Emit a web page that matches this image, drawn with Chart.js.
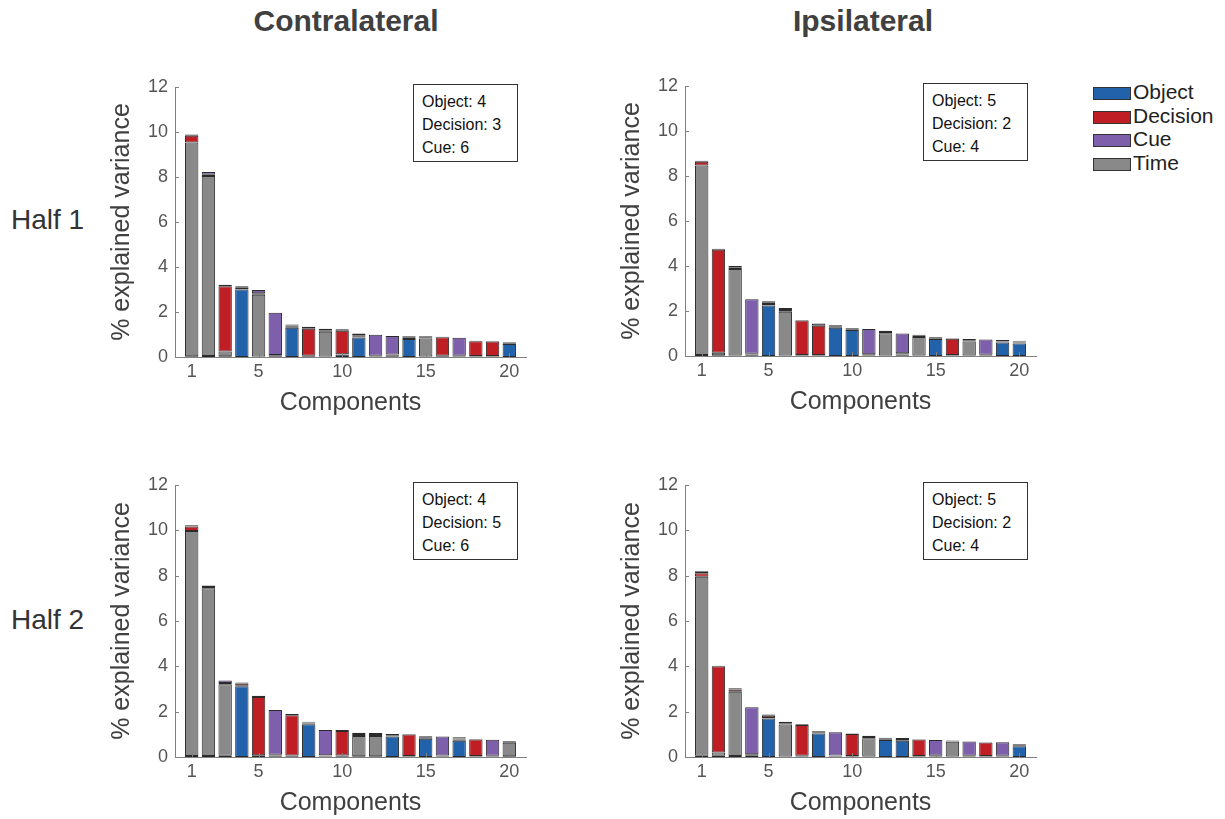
<!DOCTYPE html>
<html>
<head>
<meta charset="utf-8">
<script src="https://cdn.jsdelivr.net/npm/chart.js@4.4.1/dist/chart.umd.min.js"></script>
<style>
  html, body { margin: 0; padding: 0; background: #fff; overflow: hidden; }
  body { width: 1225px; height: 819px; position: relative; font-family: "Liberation Sans", Arial, Helvetica, sans-serif; }
  .abs { position: absolute; }
  .col-title { font-size: 30px; font-weight: bold; color: #404040; text-align: center; width: 300px; }
  .row-title { font-size: 28px; color: #333; }
  .countbox { border: 1px solid #333; background: #fff; font-size: 16px; color: #111; line-height: 23px; padding: 5px 0 0 8px; box-sizing: border-box; }
  .leg-row { position: absolute; left: 1093px; height: 24px; font-size: 21px; color: #222; }
  .leg-sw { position: absolute; left: 0; top: 6px; width: 36px; height: 11px; border: 1px solid #333; }
  .leg-tx { position: absolute; left: 40px; top: -1px; white-space: nowrap; }
</style>
</head>
<body>

<div class="abs col-title" style="left:196px; top:4px;">Contralateral</div>
<div class="abs col-title" style="left:713px; top:4px;">Ipsilateral</div>
<div class="abs row-title" style="left:11px; top:204px;">Half 1</div>
<div class="abs row-title" style="left:11px; top:604px;">Half 2</div>

<canvas id="cl1" class="abs"></canvas>
<canvas id="ip1" class="abs"></canvas>
<canvas id="cl2" class="abs"></canvas>
<canvas id="ip2" class="abs"></canvas>

<div id="legend"></div>

<script>
// --- Data ---
const components = [1, 2, 3, 4, 5, 6, 7, 8, 9, 10, 11, 12, 13, 14, 15, 16, 17, 18, 19, 20];
const xTickValues = [1, 5, 10, 15, 20];
const categories = ['Object', 'Decision', 'Cue', 'Time'];

// Contralateral, half 1
const cl1Object   = [0.03, 0.05, 0.03, 3.0, 0.02, 0.03, 1.3, 0.03, 0.02, 0.1, 0.87, 0.02, 0.03, 0.8, 0.02, 0.03, 0.02, 0.02, 0.02, 0.58];
const cl1Time     = [9.5, 8.0, 0.22, 0.02, 2.75, 0.03, 0.05, 0.03, 1.1, 0.02, 0.05, 0.02, 0.03, 0.04, 0.8, 0.03, 0.02, 0.02, 0.02, 0.03];
const cl1Decision = [0.3, 0.05, 2.9, 0.08, 0.06, 0.03, 0.05, 1.2, 0.07, 1.05, 0.05, 0.02, 0.05, 0.04, 0.04, 0.82, 0.02, 0.66, 0.65, 0.03];
const cl1Cue      = [0.06, 0.12, 0.06, 0.05, 0.15, 1.88, 0.04, 0.09, 0.07, 0.06, 0.08, 0.93, 0.82, 0.04, 0.06, 0.02, 0.8, 0.02, 0.02, 0.03];

// Ipsilateral, half 1
const ip1Object   = [0.05, 0.03, 0.02, 0.03, 2.25, 0.02, 0.02, 0.02, 1.26, 1.16, 0.02, 0.02, 0.03, 0.02, 0.76, 0.02, 0.02, 0.02, 0.6, 0.56];
const ip1Time     = [8.42, 0.12, 3.85, 0.04, 0.06, 1.95, 0.02, 0.02, 0.04, 0.03, 0.03, 0.99, 0.04, 0.83, 0.03, 0.02, 0.62, 0.02, 0.04, 0.04];
const ip1Decision = [0.16, 4.57, 0.07, 0.03, 0.06, 0.08, 1.54, 1.3, 0.04, 0.02, 0.03, 0.06, 0.05, 0.05, 0.02, 0.73, 0.06, 0.02, 0.03, 0.04];
const ip1Cue      = [0.05, 0.05, 0.06, 2.42, 0.06, 0.08, 0.02, 0.1, 0.04, 0.03, 1.12, 0.05, 0.88, 0.05, 0.03, 0.02, 0.06, 0.67, 0.04, 0.04];

// Contralateral, half 2
const cl2Object   = [0.04, 0.04, 0.05, 3.12, 0.04, 0.03, 0.03, 1.44, 0.02, 0.03, 0.03, 0.03, 0.9, 0.02, 0.81, 0.02, 0.72, 0.02, 0.02, 0.03];
const cl2Time     = [9.93, 7.4, 3.16, 0.02, 0.04, 0.04, 0.04, 0.04, 0.03, 0.04, 0.9, 0.9, 0.04, 0.02, 0.03, 0.02, 0.05, 0.02, 0.02, 0.6];
const cl2Decision = [0.2, 0.06, 0.06, 0.1, 2.57, 0.03, 1.77, 0.04, 0.03, 1.08, 0.08, 0.08, 0.03, 0.95, 0.03, 0.03, 0.05, 0.73, 0.02, 0.04];
const cl2Cue      = [0.05, 0.07, 0.1, 0.05, 0.05, 1.97, 0.06, 0.04, 1.11, 0.04, 0.06, 0.05, 0.04, 0.02, 0.04, 0.83, 0.05, 0.02, 0.7, 0.04];

// Ipsilateral, half 2
const ip2Object   = [0.05, 0.06, 0.04, 0.04, 1.7, 0.02, 0.02, 1.04, 0.02, 0.02, 0.02, 0.75, 0.72, 0.02, 0.02, 0.02, 0.02, 0.02, 0.02, 0.47];
const ip2Time     = [7.9, 0.14, 2.84, 0.04, 0.02, 1.41, 0.03, 0.03, 0.03, 0.02, 0.81, 0.03, 0.03, 0.02, 0.02, 0.65, 0.02, 0.02, 0.02, 0.03];
const ip2Decision = [0.16, 3.8, 0.1, 0.04, 0.1, 0.06, 1.36, 0.04, 0.02, 0.98, 0.05, 0.03, 0.04, 0.73, 0.01, 0.03, 0.02, 0.6, 0.01, 0.03];
const ip2Cue      = [0.09, 0.03, 0.05, 2.08, 0.06, 0.07, 0.03, 0.04, 1.02, 0.02, 0.06, 0.04, 0.05, 0.01, 0.7, 0.03, 0.62, 0.01, 0.6, 0.03];

// counts shown in each panel's box: Object, Decision, Cue
const cl1Counts = [4, 3, 6];
const ip1Counts = [5, 2, 4];
const cl2Counts = [4, 5, 6];
const ip2Counts = [5, 2, 4];

// --- Style ---
const COLORS = { Object: '#2162ab', Decision: '#be1e24', Cue: '#7e5fab', Time: '#898989' };
const EDGE = '#2b2b2b';
const FONT = '"Liberation Sans", Arial, Helvetica, sans-serif';

// MATLAB style inward tick marks
const inwardTicks = {
    id: 'inwardTicks',
    afterDraw(chart) {
        const { ctx, chartArea, scales } = chart;
        ctx.save();
        ctx.strokeStyle = '#808080';
        ctx.lineWidth = 1;
        ctx.beginPath();
        scales.y.ticks.forEach(t => {
            const y = Math.round(scales.y.getPixelForValue(t.value)) + 0.5;
            ctx.moveTo(chartArea.left, y);
            ctx.lineTo(chartArea.left + 4, y);
        });
        scales.x.ticks.forEach(t => {
            const x = Math.round(scales.x.getPixelForValue(t.value)) + 0.5;
            ctx.moveTo(x, chartArea.bottom);
            ctx.lineTo(x, chartArea.bottom - 4);
        });
        ctx.stroke();
        ctx.restore();
    }
};

function makeDataset(label, values) {
    return {
        label: label,
        data: values.map((v, i) => ({ x: components[i], y: v })),
        backgroundColor: COLORS[label],
        borderColor: EDGE,
        borderWidth: 1,
        borderSkipped: false,
        barPercentage: 0.8,
        categoryPercentage: 1.0
    };
}

// panel: canvas id, placement, series (stack order bottom -> top: Object, Time, Decision, Cue)
function buildPanel(id, left, top, plotHeight, series, counts) {
    const yWidth = 75, xHeight = 62, padTop = 27, padRight = 20, plotWidth = 351;
    const W = yWidth + plotWidth + padRight;
    const H = padTop + plotHeight + xHeight;
    const canvas = document.getElementById(id);
    canvas.style.left = left + 'px';
    canvas.style.top = top + 'px';
    canvas.width = W;
    canvas.height = H;
    canvas.style.width = W + 'px';
    canvas.style.height = H + 'px';

    new Chart(canvas.getContext('2d'), {
        type: 'bar',
        data: {
            datasets: [
                makeDataset('Object', series.object),
                makeDataset('Time', series.time),
                makeDataset('Decision', series.decision),
                makeDataset('Cue', series.cue)
            ]
        },
        options: {
            responsive: false,
            animation: false,
            layout: { padding: { top: padTop, right: padRight, left: 0, bottom: 0 } },
            plugins: { legend: { display: false }, tooltip: { enabled: false } },
            scales: {
                x: {
                    type: 'linear',
                    stacked: true,
                    offset: false,
                    min: 0,
                    max: 21,
                    afterBuildTicks: s => { s.ticks = xTickValues.map(v => ({ value: v })); },
                    afterFit: s => { s.height = xHeight; },
                    grid: { display: false, drawTicks: false, offset: false },
                    border: { display: true, color: '#808080', width: 1 },
                    ticks: { color: '#555', font: { family: FONT, size: 18 }, padding: 4, autoSkip: false, maxRotation: 0 },
                    title: { display: true, text: 'Components', color: '#404040', font: { family: FONT, size: 25 }, padding: { top: 0, bottom: 1 } }
                },
                y: {
                    stacked: true,
                    min: 0,
                    max: 12,
                    ticks: { stepSize: 2, color: '#555', font: { family: FONT, size: 18 }, padding: 7 },
                    afterFit: s => { s.width = yWidth; },
                    grid: { display: false, drawTicks: false },
                    border: { display: true, color: '#808080', width: 1 },
                    title: { display: true, text: '% explained variance', color: '#404040', font: { family: FONT, size: 25 }, padding: { top: 7, bottom: 0 } }
                }
            }
        },
        plugins: [inwardTicks]
    });

    // count box in the upper right of the axes
    const box = document.createElement('div');
    box.className = 'abs countbox';
    box.style.left = (left + yWidth + 238) + 'px';
    box.style.top = (top + padTop - 3) + 'px';
    box.style.width = '105px';
    box.style.height = '78px';
    box.innerHTML = `Object: ${counts[0]}<br>Decision: ${counts[1]}<br>Cue: ${counts[2]}`;
    document.body.appendChild(box);
}

buildPanel('cl1', 100, 60, 270, { object: cl1Object, time: cl1Time, decision: cl1Decision, cue: cl1Cue }, cl1Counts);
buildPanel('ip1', 610, 59, 270, { object: ip1Object, time: ip1Time, decision: ip1Decision, cue: ip1Cue }, ip1Counts);
buildPanel('cl2', 100, 458, 272, { object: cl2Object, time: cl2Time, decision: cl2Decision, cue: cl2Cue }, cl2Counts);
buildPanel('ip2', 610, 458, 272, { object: ip2Object, time: ip2Time, decision: ip2Decision, cue: ip2Cue }, ip2Counts);

// --- Legend ---
const legend = document.getElementById('legend');
categories.forEach((name, i) => {
    const row = document.createElement('div');
    row.className = 'leg-row';
    row.style.top = (81 + i * 23.5) + 'px';
    row.innerHTML = `<div class="leg-sw" style="background:${COLORS[name]}"></div><div class="leg-tx">${name}</div>`;
    legend.appendChild(row);
});
</script>
</body>
</html>
